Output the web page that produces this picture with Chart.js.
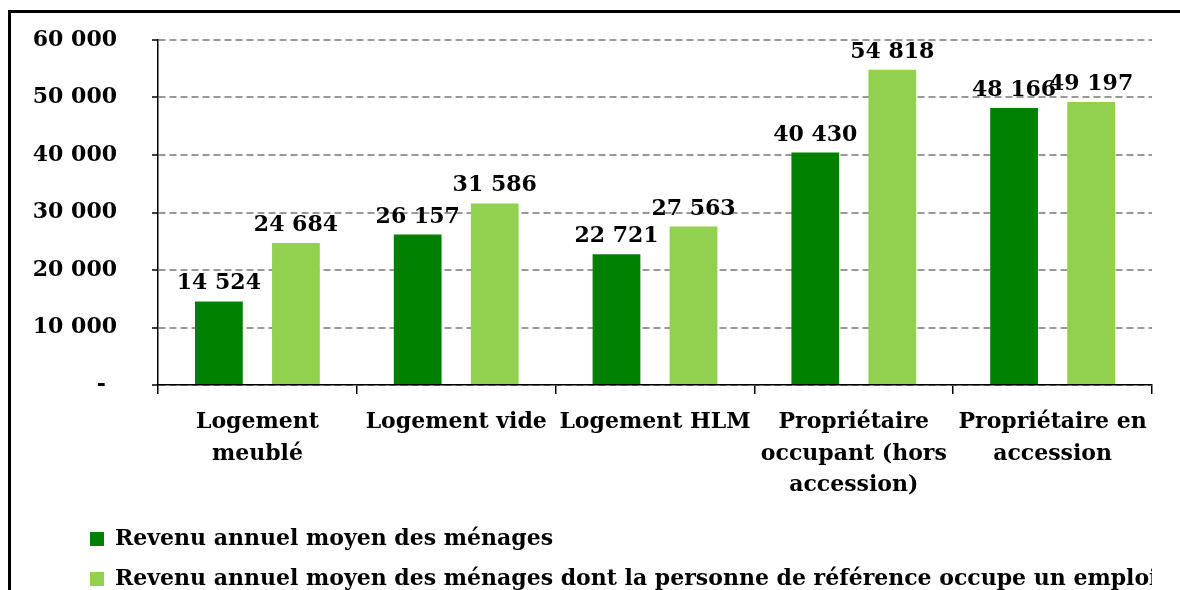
<!DOCTYPE html>
<html>
<head>
<meta charset="utf-8">
<script src="https://cdn.jsdelivr.net/npm/chart.js@4"></script>
<style>
  html, body { margin: 0; padding: 0; background: #fff; }
  #wrap { position: relative; width: 1180px; height: 590px; overflow: hidden; }
  #frame { position: absolute; left: 8px; top: 10px; width: 1200px; height: 600px;
           border-left: 3px solid #000; border-top: 3px solid #000; }
  #revenus { position: absolute; left: 0; top: 0; }
</style>
</head>
<body>
<div id="wrap">
  <div id="frame"></div>
  <canvas id="revenus" width="1180" height="590"></canvas>
</div>
<script>
const categories = [
  ['Logement', 'meublé'],
  ['Logement vide'],
  ['Logement HLM'],
  ['Propriétaire', 'occupant (hors', 'accession)'],
  ['Propriétaire en', 'accession']
];
const seriesNames = [
  'Revenu annuel moyen des ménages',
  'Revenu annuel moyen des ménages dont la personne de référence occupe un emploi'
];
const revenuMoyen = [14524, 26157, 22721, 40430, 48166];
const revenuEmploi = [24684, 31586, 27563, 54818, 49197];
const yTicks = [0, 10000, 20000, 30000, 40000, 50000, 60000];

// espace comme séparateur de milliers
function fmt(n) {
  return String(n).replace(/\B(?=(\d{3})+(?!\d))/g, ' ');
}

const valueLabels = {
  id: 'valueLabels',
  afterDatasetsDraw(chart) {
    const ctx = chart.ctx;
    ctx.save();
    ctx.font = 'bold 22px "DejaVu Serif"';
    ctx.fillStyle = '#000';
    ctx.textAlign = 'center';
    ctx.textBaseline = 'alphabetic';
    chart.data.datasets.forEach((ds, i) => {
      chart.getDatasetMeta(i).data.forEach((bar, j) => {
        ctx.fillText(fmt(ds.data[j]), bar.x, bar.y - 12);
      });
    });
    ctx.restore();
  }
};

// légende alignée sous l'axe, comme dans Excel
const legendShift = {
  id: 'legendShift',
  afterLayout(chart) {
    chart.legend.left = 72;
    chart.legend.top = 510;
  }
};

Chart.defaults.font.family = '"DejaVu Serif"';
Chart.defaults.font.weight = 'bold';
Chart.defaults.font.size = 22;
Chart.defaults.color = '#000';

new Chart(document.getElementById('revenus'), {
  type: 'bar',
  data: {
    labels: categories,
    datasets: [
      { label: seriesNames[0], data: revenuMoyen, backgroundColor: '#008000', borderWidth: 0 },
      { label: seriesNames[1], data: revenuEmploi, backgroundColor: '#92D050', borderWidth: 0 }
    ]
  },
  options: {
    responsive: false,
    animation: false,
    categoryPercentage: 0.775,
    barPercentage: 0.62,
    layout: { padding: { top: 40, right: 28, left: 0, bottom: 0 } },
    plugins: {
      tooltip: { enabled: false },
      legend: {
        position: 'bottom',
        align: 'start',
        labels: {
          boxWidth: 14,
          boxHeight: 14,
          padding: 18,
          font: { size: 22, lineHeight: 1.95 }
        }
      }
    },
    scales: {
      x: {
        offset: true,
        grid: { drawOnChartArea: false, drawTicks: true, tickLength: 9, color: '#000', lineWidth: 1.5 },
        border: { color: '#000', width: 1.5 },
        ticks: { padding: 13, maxRotation: 0, autoSkip: false, font: { lineHeight: 1.43 } },
        afterFit(scale) { scale.height = 115; }
      },
      y: {
        min: 0,
        max: 60000,
        afterBuildTicks(scale) { scale.ticks = yTicks.map(v => ({ value: v })); },
        grid: { color: '#999', lineWidth: 2, tickColor: '#000', tickWidth: 1.5, tickLength: 6 },
        border: { color: '#000', width: 1.5, dash: [7, 4] },
        ticks: {
          padding: 35,
          callback: v => v === 0 ? '-\u2002' : fmt(v)
        },
        afterFit(scale) {
          scale.width = 158;
          scale.paddingTop = 0;
          scale.paddingBottom = 0;
        }
      }
    }
  },
  plugins: [valueLabels, legendShift]
});
</script>
</body>
</html>
